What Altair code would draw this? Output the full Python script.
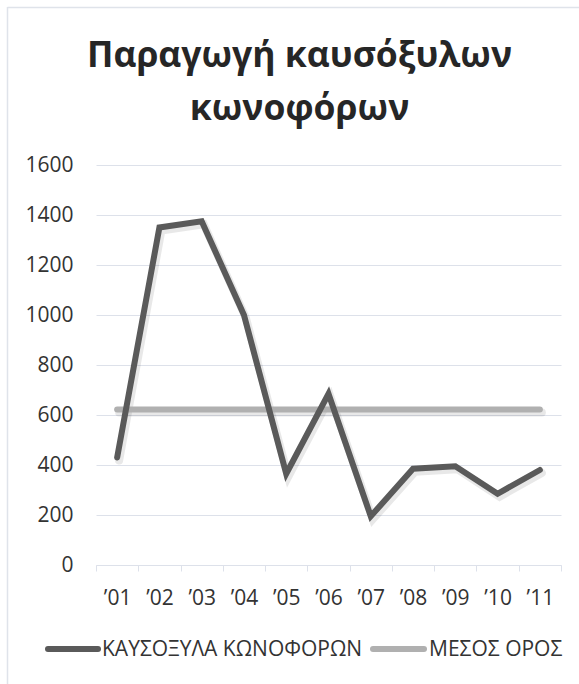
import altair as alt
import pandas as pd

years = ["’01", "’02", "’03", "’04", "’05", "’06", "’07", "’08", "’09", "’10", "’11"]
firewood = [430, 1350, 1375, 1000, 365, 685, 195, 385, 395, 285, 380]
mean_val = [622, 622, 622, 622, 622, 622, 622, 622, 622, 622, 622]
series_names = ["ΚΑΥΣΟΞΥΛΑ ΚΩΝΟΦΟΡΩΝ", "ΜΕΣΟΣ ΟΡΟΣ"]
series_colors = ["#5a5a5a", "#b0b0b0"]
y_ticks = [0, 200, 400, 600, 800, 1000, 1200, 1400, 1600]
title_lines = ["Παραγωγή καυσόξυλων", "κωνοφόρων"]

rows = []
for i, yr in enumerate(years):
    rows.append({"year": yr, "value": mean_val[i], "series": series_names[1], "o": 0})
for i, yr in enumerate(years):
    rows.append({"year": yr, "value": firewood[i], "series": series_names[0], "o": 1})
df = pd.DataFrame(rows)
one = pd.DataFrame({"k": [0]})

FONT = "Open Sans"
GRID = "#dde1ea"
LABEL = "#333333"

x_scale = alt.Scale(type="band", paddingInner=0, paddingOuter=0)
y_scale = alt.Scale(domain=[0, 1600], nice=False)

x_enc = alt.X(
    "year:N",
    sort=years,
    scale=x_scale,
    axis=alt.Axis(
        title=None, labelAngle=0, tickBand="extent", ticks=True, tickSize=6,
        tickColor=GRID, domainColor=GRID, grid=False, labelFont=FONT,
        labelFontSize=21, labelColor=LABEL, labelPadding=16,
    ),
)
y_enc = alt.Y(
    "value:Q",
    scale=y_scale,
    axis=alt.Axis(
        title=None, values=y_ticks, format="d", domain=False, ticks=False, grid=True,
        gridColor=GRID, labelFont=FONT, labelFontSize=21, labelColor=LABEL,
        labelPadding=23,
    ),
)

shadow = alt.Chart(df).mark_line(
    strokeWidth=8, strokeCap="round", color="#000000", opacity=0.09, xOffset=2, yOffset=3
).encode(x=x_enc, y=y_enc, detail="series:N")

lines = alt.Chart(df).mark_line(strokeWidth=6, strokeCap="round").encode(
    x=x_enc,
    y=y_enc,
    color=alt.Color(
        "series:N",
        sort=series_names,
        scale=alt.Scale(domain=series_names, range=series_colors),
        legend=None,
    ),
    order=alt.Order("o:Q"),
)

# legend (manual)
leg_sym1 = alt.Chart(one).mark_rule(color=series_colors[0], strokeWidth=6, strokeCap="round").encode(
    x=alt.value(-48), x2=alt.value(2), y=alt.value(484)
)
leg_txt1 = alt.Chart(one).mark_text(
    text=series_names[0], font=FONT, fontSize=21, color=LABEL, align="left", baseline="alphabetic"
).encode(x=alt.value(6), y=alt.value(491))
leg_sym2 = alt.Chart(one).mark_rule(color=series_colors[1], strokeWidth=6, strokeCap="round").encode(
    x=alt.value(277), x2=alt.value(328), y=alt.value(484)
)
leg_txt2 = alt.Chart(one).mark_text(
    text=series_names[1], font=FONT, fontSize=21, color=LABEL, align="left", baseline="alphabetic"
).encode(x=alt.value(333), y=alt.value(491))

border_left = alt.Chart(one).mark_rule(color="#dfe3ea", strokeWidth=1.5).encode(
    x=alt.value(-88.5), y=alt.value(-158), y2=alt.value(600)
)
border_top = alt.Chart(one).mark_rule(color="#dfe3ea", strokeWidth=1.5).encode(
    x=alt.value(-88.5), x2=alt.value(600), y=alt.value(-157.5)
)
title1 = alt.Chart(one).mark_text(
    text=title_lines[0], font=FONT, fontSize=35.5, fontWeight="bold", color="#262626",
    align="center", baseline="alphabetic",
).encode(x=alt.value(203.5), y=alt.value(-98))
title2 = alt.Chart(one).mark_text(
    text=title_lines[1], font=FONT, fontSize=35.5, fontWeight="bold", color="#262626",
    align="center", baseline="alphabetic",
).encode(x=alt.value(203.5), y=alt.value(-45))

chart = alt.layer(
    shadow, lines, border_left, border_top, title1, title2,
    leg_sym1, leg_txt1, leg_sym2, leg_txt2,
).properties(
    width=465,
    height=400,
    autosize=alt.AutoSizeParams(type="none"),
    padding={"left": 96, "top": 165, "right": 18, "bottom": 119},
).configure_view(stroke=None)

chart.save("out.html", embed_options={"renderer": "svg", "actions": False})
